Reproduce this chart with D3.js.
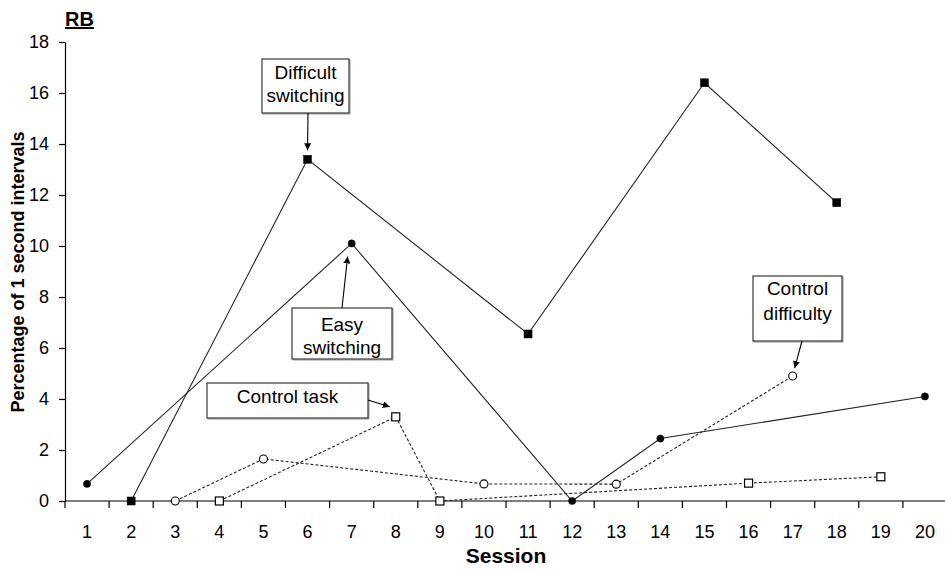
<!DOCTYPE html>
<html>
<head>
<meta charset="utf-8">
<script src="https://cdn.jsdelivr.net/npm/d3@7/dist/d3.min.js"></script>
<style>
  html, body { margin: 0; padding: 0; background: #fff; }
  svg { display: block; font-family: Arial, "Liberation Sans", sans-serif; }
</style>
</head>
<body>
<svg id="chart" width="945" height="571"></svg>
<script>
// Session categories along the x axis
const sessions = ["1","2","3","4","5","6","7","8","9","10","11","12","13","14","15","16","17","18","19","20"];
const yTicks = [0, 2, 4, 6, 8, 10, 12, 14, 16, 18];

// Difficult switching (filled squares)
const difficultSessions = ["2", "6", "11", "15", "18"];
const difficultValues = [0, 13.4, 6.55, 16.4, 11.7];

// Easy switching (filled circles)
const easySessions = ["1", "7", "12", "14", "20"];
const easyValues = [0.67, 10.1, 0, 2.45, 4.1];

// Control difficulty (open circles)
const ctrlDiffSessions = ["3", "5", "10", "13", "17"];
const ctrlDiffValues = [0, 1.65, 0.67, 0.66, 4.9];

// Control task (open squares)
const ctrlTaskSessions = ["4", "8", "9", "16", "19"];
const ctrlTaskValues = [0, 3.3, 0, 0.7, 0.95];

const svg = d3.select("#chart");
const plotLeft = 65, plotRight = 947, plotTop = 42, plotBottom = 501;

const x = d3.scaleBand().domain(sessions).range([plotLeft, plotRight]).paddingInner(0).paddingOuter(0);
const y = d3.scaleLinear().domain([0, 18]).range([plotBottom, plotTop]);
const cx = s => x(s) + x.bandwidth() / 2;

// Y axis
const yAxis = svg.append("g")
  .attr("transform", `translate(${plotLeft},0)`)
  .call(d3.axisLeft(y).tickValues(yTicks).tickSize(6).tickPadding(10).tickSizeOuter(0));
yAxis.select(".domain").attr("stroke", "#000").attr("stroke-width", 1.2);
yAxis.selectAll(".tick line").attr("stroke", "#000").attr("stroke-width", 1.2);
yAxis.selectAll(".tick text").attr("font-size", 18).attr("fill", "#000")
  .attr("font-family", "Arial, 'Liberation Sans', sans-serif");

// X axis: baseline, ticks at category boundaries, labels centred in each band
const xAxis = svg.append("g");
xAxis.append("line")
  .attr("x1", plotLeft).attr("x2", 945).attr("y1", y(0)).attr("y2", y(0))
  .attr("stroke", "#000").attr("stroke-width", 1.2);
const bounds = sessions.map(s => x(s)).concat([x.range()[1]]);
xAxis.selectAll("line.bound").data(bounds).enter().append("line")
  .attr("class", "bound")
  .attr("x1", d => d).attr("x2", d => d)
  .attr("y1", y(0)).attr("y2", y(0) + 7)
  .attr("stroke", "#000").attr("stroke-width", 1.2);
xAxis.selectAll("text.lab").data(sessions).enter().append("text")
  .attr("class", "lab")
  .attr("x", d => cx(d)).attr("y", y(0) + 37)
  .attr("text-anchor", "middle").attr("font-size", 18).attr("fill", "#000")
  .text(d => d);

// Axis titles
svg.append("text")
  .attr("x", 506).attr("y", 563)
  .attr("text-anchor", "middle").attr("font-size", 21).attr("font-weight", "bold")
  .text("Session");
svg.append("text")
  .attr("transform", "translate(24,272) rotate(-90)")
  .attr("text-anchor", "middle").attr("font-size", 18).attr("font-weight", "bold")
  .text("Percentage of 1 second intervals");

// Panel title
svg.append("text")
  .attr("x", 65).attr("y", 26)
  .attr("font-size", 20).attr("font-weight", "bold")
  .attr("text-decoration", "underline")
  .text("RB");

// Series
const series = [
  { sessions: difficultSessions, values: difficultValues, dash: null, marker: "square", fill: "#000" },
  { sessions: easySessions, values: easyValues, dash: null, marker: "circle", fill: "#000" },
  { sessions: ctrlDiffSessions, values: ctrlDiffValues, dash: "3,2", marker: "circle", fill: "#fff" },
  { sessions: ctrlTaskSessions, values: ctrlTaskValues, dash: "3,2", marker: "square", fill: "#fff" }
];

const line = d3.line().x(d => cx(d.s)).y(d => y(d.v));

series.forEach(sr => {
  const pts = sr.sessions.map((s, i) => ({ s, v: sr.values[i] }));
  svg.append("path")
    .datum(pts)
    .attr("d", line)
    .attr("fill", "none")
    .attr("stroke", "#222")
    .attr("stroke-width", 1.1)
    .attr("stroke-dasharray", sr.dash);
  const g = svg.append("g");
  if (sr.marker === "square") {
    const size = 8;
    g.selectAll("rect").data(pts).enter().append("rect")
      .attr("x", d => cx(d.s) - size / 2).attr("y", d => y(d.v) - size / 2)
      .attr("width", size).attr("height", size)
      .attr("fill", sr.fill).attr("stroke", "#000").attr("stroke-width", sr.fill === "#000" ? 0.5 : 1.2);
  } else {
    const r = sr.fill === "#000" ? 3.6 : 4;
    g.selectAll("circle").data(pts).enter().append("circle")
      .attr("cx", d => cx(d.s)).attr("cy", d => y(d.v)).attr("r", r)
      .attr("fill", sr.fill).attr("stroke", "#000").attr("stroke-width", sr.fill === "#000" ? 0.5 : 1.1);
  }
});

// Callout boxes with arrows pointing at a session's marker
svg.append("defs").append("marker")
  .attr("id", "arrow").attr("viewBox", "0 0 10 10")
  .attr("refX", 10).attr("refY", 5)
  .attr("markerWidth", 7).attr("markerHeight", 7)
  .attr("markerUnits", "userSpaceOnUse")
  .attr("orient", "auto")
  .append("path").attr("d", "M0,0 L10,5 L0,10 Z").attr("fill", "#000");

const callouts = [
  { lines: ["Difficult", "switching"], box: [262, 59, 87, 54], baselines: [79, 102],
    from: [308, 113], session: "6", value: 13.4, offset: [0, -9] },
  { lines: ["Easy", "switching"], box: [292, 308, 100, 51], baselines: [331, 354],
    from: [342, 308], session: "7", value: 10.1, offset: [-4, 13] },
  { lines: ["Control task"], box: [207, 383, 161, 35], baselines: [403],
    from: [368, 400], session: "8", value: 3.3, offset: [-6, -10] },
  { lines: ["Control", "difficulty"], box: [753, 276, 89, 65], baselines: [295, 320],
    from: [802, 341], session: "17", value: 4.9, offset: [2, -8] }
];

callouts.forEach(c => {
  const [bx, by, bw, bh] = c.box;
  svg.append("rect")
    .attr("x", bx + 1).attr("y", by + 1).attr("width", bw).attr("height", bh)
    .attr("fill", "none").attr("stroke", "#999").attr("stroke-width", 1);
  svg.append("rect")
    .attr("x", bx).attr("y", by).attr("width", bw).attr("height", bh)
    .attr("fill", "#fff").attr("stroke", "#111").attr("stroke-width", 1);
  c.lines.forEach((t, i) => {
    svg.append("text")
      .attr("x", bx + bw / 2).attr("y", c.baselines[i])
      .attr("text-anchor", "middle").attr("font-size", 19).attr("fill", "#000")
      .text(t);
  });
  svg.append("line")
    .attr("x1", c.from[0]).attr("y1", c.from[1])
    .attr("x2", cx(c.session) + c.offset[0]).attr("y2", y(c.value) + c.offset[1])
    .attr("stroke", "#000").attr("stroke-width", 1.1)
    .attr("marker-end", "url(#arrow)");
});
</script>
</body>
</html>
